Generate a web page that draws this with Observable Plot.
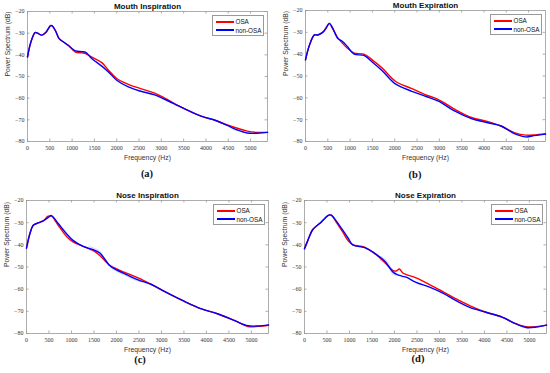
<!DOCTYPE html>
<html><head><meta charset="utf-8">
<script src="https://cdn.jsdelivr.net/npm/d3@7"></script>
<script src="https://cdn.jsdelivr.net/npm/@observablehq/plot@0.6"></script>
<style>
body{margin:0;background:#fff;}
#wrap{position:relative;width:550px;height:373px;overflow:hidden;}
.panel{position:absolute;width:275px;}
.cap{position:absolute;font:bold 10.5px "Liberation Serif",serif;transform:translate(-50%,-50%);color:#111;}
.legend{position:absolute;width:52px;height:21px;border:0.8px solid #999;background:#fff;font:6.3px "Liberation Sans",sans-serif;color:#111;box-sizing:border-box;white-space:nowrap;}
.legend .row{position:absolute;left:2.5px;height:9px;display:flex;align-items:center;white-space:nowrap;}
.legend .sw{display:inline-block;width:18px;height:2px;margin-right:2px;flex:none;}
</style>
</head><body><div id="wrap"></div>
<script>
// ---- data ----
const xTicks = [0, 500, 1000, 1500, 2000, 2500, 3000, 3500, 4000, 4500, 5000];
const yTicks = [-80, -70, -60, -50, -40, -30, -20];
const seriesNames = ["OSA", "non-OSA"];
const titles = ["Mouth Inspiration", "Mouth Expiration", "Nose Inspiration", "Nose Expiration"];
const captions = ["(a)", "(b)", "(c)", "(d)"];

const freqA = [0, 75, 170, 225, 320, 410, 520, 555, 630, 705, 815, 925, 1075, 1220, 1300, 1445, 1665, 1815, 2000, 2260, 2520, 2850, 3075, 3480, 3890, 4220, 4480, 4705, 4925, 5150, 5380];
const osaA    = [-41, -34.2, -29.7, -30, -30.9, -29.7, -26.4, -26.7, -29, -32.4, -34.2, -35.8, -38.8, -39.1, -39.4, -41.1, -43.6, -47.1, -50.9, -53.6, -55.5, -57.7, -60, -64.5, -68.3, -70.3, -72.4, -73.9, -75.2, -75.8, -75.8];
const nonOsaA = [-41, -34.2, -29.7, -30, -30.9, -29.7, -26.5, -26.6, -29, -32.4, -34.2, -35.8, -38.2, -38.5, -38.8, -41.8, -45.2, -47.9, -51.7, -54.8, -56.7, -58.5, -60.5, -64.5, -68.3, -70.3, -72.6, -74.7, -76.1, -76.2, -75.8];

const freqB = [0, 90, 200, 275, 385, 460, 535, 605, 720, 830, 940, 1090, 1310, 1495, 1720, 2015, 2385, 2680, 2980, 3350, 3720, 4090, 4385, 4680, 4940, 5125, 5380];
const osaB    = [-42.6, -35.8, -31.2, -31.2, -30, -27.9, -25.8, -28.2, -32.4, -35, -37.3, -39.5, -40, -42.6, -46.4, -52.4, -55.8, -58.5, -60.8, -65.3, -69, -70.9, -72.9, -75.9, -77.1, -77, -76.4];
const nonOsaB = [-42.6, -35.8, -31.2, -31.2, -30, -28.2, -26, -27.8, -32.7, -34.2, -36.5, -40, -40.6, -43.6, -47.6, -53.6, -57, -59.2, -61.5, -66.1, -69.5, -71.4, -72.9, -76.4, -77.9, -77.3, -76.6];

const freqC = [0, 75, 150, 260, 370, 480, 555, 705, 890, 1035, 1260, 1480, 1630, 1850, 2000, 2220, 2480, 2780, 3075, 3480, 3890, 4260, 4630, 4925, 5150, 5380];
const osaC    = [-41.5, -35, -31.2, -30.1, -29.2, -27.1, -27.1, -31.2, -36.2, -38.7, -40.7, -42.5, -44.8, -49.3, -50.8, -52.8, -54.9, -57.9, -61.1, -65.2, -68.9, -71.2, -74.2, -76.9, -76.8, -76.3];
const nonOsaC = [-41.5, -35, -31.2, -30.1, -29.2, -27.7, -26.8, -30.4, -35, -38, -40.7, -42.2, -43.7, -49.3, -51.3, -53.4, -55.8, -57.9, -61.1, -65.2, -68.9, -71.2, -74.2, -76.5, -76.6, -76.1];

const freqD = [0, 75, 185, 335, 445, 540, 595, 705, 850, 965, 1075, 1335, 1520, 1780, 1965, 2040, 2110, 2180, 2260, 2480, 2780, 3075, 3370, 3670, 4035, 4405, 4705, 4925, 5150, 5380];
const osaD    = [-41.8, -38, -33.1, -30.4, -28.2, -26.6, -26.6, -29.7, -34.2, -38, -40, -41, -43.3, -47.8, -51.6, -51.8, -50.9, -52.6, -53.4, -54.9, -57.9, -61.1, -64.4, -67.4, -70.4, -72.7, -75.7, -76.9, -76.9, -76.2];
const nonOsaD = [-41.8, -38, -33.1, -30.4, -28.2, -26.6, -26.6, -29.2, -33.4, -36.8, -40, -41.3, -43.3, -47.3, -52.3, -53.2, -53.8, -54.2, -54.6, -56.9, -59.1, -61.8, -65.2, -68.2, -70.4, -72.7, -75.7, -77.3, -77.1, -76.2];

// faint non-OSA variability bands (segment id, freq, low, high)
const bandC_seg = [1, 1, 1, 1, 1, 2, 2, 2, 2, 2];
const bandC_f   = [1400, 1480, 1560, 1650, 1720, 1880, 2000, 2220, 2480, 2600];
const bandC_lo  = [-42.8, -43.2, -43.9, -45.0, -47.0, -50.8, -52.3, -54.4, -56.8, -57.4];
const bandC_hi  = [-40.8, -41.2, -41.9, -43.0, -45.0, -48.8, -50.3, -52.4, -54.8, -55.4];
const bandD_seg = [1, 1, 1, 1, 1];
const bandD_f   = [1680, 1780, 1880, 1965, 2050];
const bandD_lo  = [-47.4, -48.6, -50.8, -53.6, -54.4];
const bandD_hi  = [-45.0, -46.0, -48.2, -51.0, -52.0];

const XMAX = 5380;
const colors = ["#ff0000", "#0000ff"];

// ---- layout ----
const panels = [
  {freq: freqA, osa: osaA, non: nonOsaA, band: null, left: 0,   top: 0,   h: 170, mt: 11, mb: 29, ml: 27, mr: 8, cap: [147, 173]},
  {freq: freqB, osa: osaB, non: nonOsaB, band: null, left: 275, top: 0,   h: 170, mt: 10, mb: 29, ml: 30, mr: 5, cap: [415, 174]},
  {freq: freqC, osa: osaC, non: nonOsaC, band: [bandC_seg, bandC_f, bandC_lo, bandC_hi], left: 0,   top: 189, h: 170, mt: 11, mb: 26, ml: 26, mr: 7, cap: [140, 359]},
  {freq: freqD, osa: osaD, non: nonOsaD, band: [bandD_seg, bandD_f, bandD_lo, bandD_hi], left: 275, top: 189, h: 170, mt: 11, mb: 26, ml: 29, mr: 4, cap: [418, 358]}
];

const wrap = document.getElementById("wrap");
const fmtY = d => d < 0 ? "\u2212" + (-d) : String(d);

panels.forEach((p, i) => {
  const rows = [];
  p.freq.forEach((f, j) => rows.push({f, v: p.osa[j], s: seriesNames[0]}));
  p.freq.forEach((f, j) => rows.push({f, v: p.non[j], s: seriesNames[1]}));
  const bandRows = p.band ? p.band[1].map((f, j) => ({seg: p.band[0][j], f, lo: p.band[2][j], hi: p.band[3][j]})) : [];
  const plotH = p.h - p.mt - p.mb;
  const tyLen = 60 / plotH * 2.5;
  const txLen = XMAX / (275 - p.ml - p.mr) * 2.5;
  const chart = Plot.plot({
    width: 275, height: p.h,
    marginTop: p.mt, marginBottom: p.mb, marginLeft: p.ml, marginRight: p.mr,
    style: {fontFamily: "Liberation Sans, sans-serif", color: "#333", background: "transparent"},
    x: {domain: [0, XMAX], axis: null},
    y: {domain: [-80, -20], axis: null},
    color: {domain: seriesNames, range: colors},
    marks: [
      Plot.ruleX(xTicks, {x: d => d, y1: -80, y2: -80 + tyLen, stroke: "#777", strokeWidth: 0.6}),
      Plot.ruleX(xTicks, {x: d => d, y1: -20, y2: -20 - tyLen, stroke: "#777", strokeWidth: 0.6}),
      Plot.ruleY(yTicks, {y: d => d, x1: 0, x2: txLen, stroke: "#777", strokeWidth: 0.6}),
      Plot.ruleY(yTicks, {y: d => d, x1: XMAX, x2: XMAX - txLen, stroke: "#777", strokeWidth: 0.6}),
      Plot.frame({stroke: "#999", strokeWidth: 0.8}),
      Plot.axisX(xTicks, {anchor: "bottom", tickSize: 0, tickPadding: 4, tickFormat: d => String(d), fontFamily: "Liberation Serif, serif", fontSize: 6, label: null}),
      Plot.axisY(yTicks, {anchor: "left", tickSize: 0, tickPadding: 3, tickFormat: fmtY, fontFamily: "Liberation Serif, serif", fontSize: 6, label: null}),
      Plot.areaY(bandRows, {x: "f", y1: "lo", y2: "hi", z: "seg", fill: "#6666ff", fillOpacity: 0.22, curve: "catmull-rom"}),
      Plot.line(rows, {x: "f", y: "v", z: "s", stroke: "s", strokeWidth: 1.4, curve: "catmull-rom"}),
      Plot.text([titles[i]], {text: d => d, frameAnchor: "top", dy: -5, fontWeight: "bold", fontSize: 8, fill: "#111", lineAnchor: "middle"}),
      Plot.text(["Frequency (Hz)"], {text: d => d, frameAnchor: "bottom", dy: 16.5, fontSize: 6.8, fill: "#333", lineAnchor: "middle"}),
      Plot.text(["Power Spectrum (dB)"], {text: d => d, frameAnchor: "left", dx: -20, rotate: -90, fontSize: 6.8, fill: "#333", lineAnchor: "middle"})
    ]
  });
  const div = document.createElement("div");
  div.className = "panel";
  div.style.left = p.left + "px";
  div.style.top = p.top + "px";
  div.appendChild(chart);
  const lg = document.createElement("div");
  lg.className = "legend";
  lg.style.right = (p.mr + 3) + "px";
  lg.style.top = (p.mt + 3.5) + "px";
  seriesNames.forEach((name, k) => {
    const r = document.createElement("div");
    r.className = "row";
    r.style.top = (1.5 + k * 8.5) + "px";
    const sw = document.createElement("span");
    sw.className = "sw";
    sw.style.background = colors[k];
    r.appendChild(sw);
    r.appendChild(document.createTextNode(name));
    lg.appendChild(r);
  });
  div.appendChild(lg);
  wrap.appendChild(div);
  const cap = document.createElement("div");
  cap.className = "cap";
  cap.style.left = p.cap[0] + "px";
  cap.style.top = p.cap[1] + "px";
  cap.textContent = captions[i];
  wrap.appendChild(cap);
});
</script>
</body></html>
